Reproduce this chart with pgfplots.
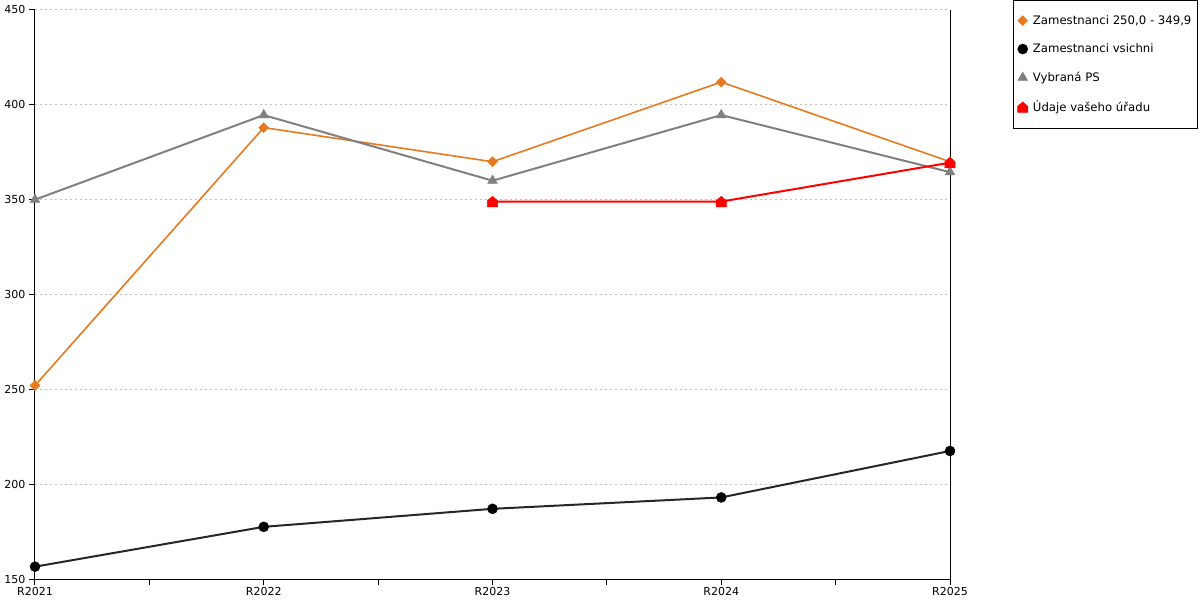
\documentclass[border=0pt]{standalone}
\usepackage{pgfplots}
\pgfplotsset{compat=1.18}
\usepackage{fontspec}
\setmainfont{DejaVu Sans}
\definecolor{cOrange}{HTML}{E8791E}
\definecolor{cGray}{HTML}{808080}
\definecolor{cRed}{HTML}{FF0000}
\definecolor{cGrid}{HTML}{C0C0C0}
\pgfdeclareplotmark{house}{%
 \pgfpathmoveto{\pgfqpoint{-\pgfplotmarksize}{-\pgfplotmarksize}}%
 \pgfpathlineto{\pgfqpoint{\pgfplotmarksize}{-\pgfplotmarksize}}%
 \pgfpathlineto{\pgfqpoint{\pgfplotmarksize}{0.15\pgfplotmarksize}}%
 \pgfpathlineto{\pgfqpoint{0pt}{\pgfplotmarksize}}%
 \pgfpathlineto{\pgfqpoint{-\pgfplotmarksize}{0.15\pgfplotmarksize}}%
 \pgfpathclose
 \pgfusepathqfillstroke}
\begin{document}
\begin{tikzpicture}
\path[use as bounding box] (0,0) rectangle (1200bp,600bp);
\begin{axis}[
 at={(35bp,21bp)}, anchor=south west,
 scale only axis, width=915bp, height=569bp,
 xmin=0, xmax=4, ymin=150, ymax=450,
 xtick={0,1,2,3,4}, xticklabels={R2021,R2022,R2023,R2024,R2025},
 minor xtick={0.5,1.5,2.5,3.5},
 ytick={150,200,...,450},
 axis x line*=bottom, axis y line*=left,
 axis line style={black, line width=1bp},
 tick align=outside, major tick length=6bp, minor tick length=6bp,
 tick style={black, line width=1bp},
 ymajorgrids,
 grid style={cGrid, line width=1bp, dash pattern=on 2bp off 3bp},
 /pgf/number format/assume math mode=true,
 /pgf/number format/1000 sep={},
 ticklabel style={font=\fontsize{11bp}{13bp}\selectfont},
 xticklabel style={yshift=1bp},
 legend cell align=left,
 legend image code/.code={\draw[#1] plot coordinates {(0bp,0bp)};},
 legend style={font=\fontsize{11.7bp}{14bp}\selectfont, draw=black, line width=1bp,
   at={(1.0689,1.0176)}, anchor=north west, inner xsep=4bp, inner ysep=13bp, row sep=14bp,
   /tikz/every odd column/.append style={column sep=3bp}},
 clip=false,
]
\addplot[cOrange, line width=1.6bp, mark=square*, mark size=3.5bp, mark options={rotate=45, line width=0.5bp}]
 coordinates {(0,252) (1,388) (2,370) (3,412) (4,370)};
\addlegendentry{Zamestnanci 250,0 - 349,9}
\addplot[black!85, line width=2bp, mark=*, mark size=5bp, mark options={black, fill=black, line width=0.5bp}]
 coordinates {(0,156.5) (1,177.5) (2,187) (3,193) (4,217.5)};
\addlegendentry{Zamestnanci vsichni}
\addplot[cGray, line width=2bp, mark=triangle*, mark size=5.6bp, mark options={line width=0.5bp}]
 coordinates {(0,350) (1,394.6) (2,360) (3,394.6) (4,364.5)};
\addlegendentry{Vybraná PS}
\addplot[cRed, line width=2bp, mark=house, mark size=5.2bp, mark options={line width=0.5bp}]
 coordinates {(2,349) (3,349) (4,369.5)};
\addlegendentry{Údaje vašeho úřadu}
\draw[black, line width=1bp] (axis cs:4,150) -- (axis cs:4,450);
\end{axis}
\end{tikzpicture}
\end{document}
